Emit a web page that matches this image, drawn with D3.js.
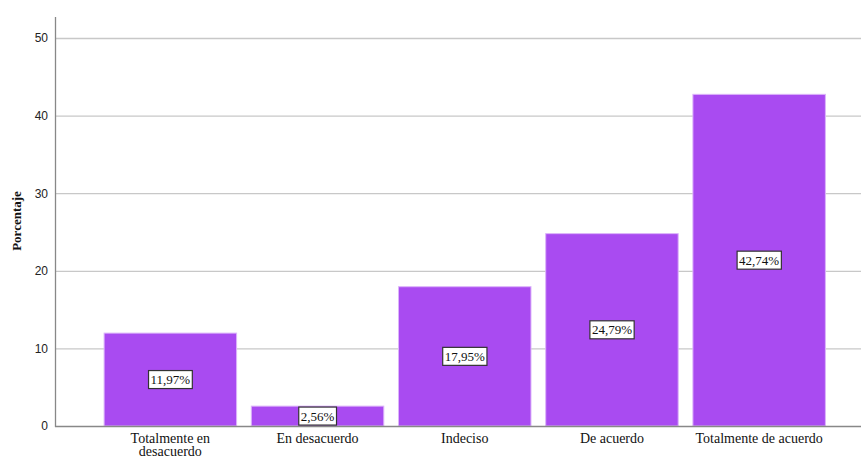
<!DOCTYPE html>
<html><head><meta charset="utf-8">
<script src="https://cdn.jsdelivr.net/npm/d3@7"></script>
<style>body{margin:0;background:#fff}</style>
</head><body>
<svg id="c" width="861" height="458"></svg>
<script>
const categories = ["Totalmente en desacuerdo","En desacuerdo","Indeciso","De acuerdo","Totalmente de acuerdo"];
const values = [11.97, 2.56, 17.95, 24.79, 42.74];
const valueLabels = ["11,97%","2,56%","17,95%","24,79%","42,74%"];
const yTicks = [0,10,20,30,40,50];
const yTitle = "Porcentaje";

const svg = d3.select("#c");
const x0 = 55, x1 = 861, yTop = 17, yBase = 426;
const y = d3.scaleLinear().domain([0,50]).range([yBase, 38]);
const x = d3.scaleBand().domain(categories).range([96.75, 832.75]).paddingInner(0.1).paddingOuter(0.05);

// gridlines
svg.append("g").selectAll("line").data(yTicks.filter(d=>d>0)).join("line")
  .attr("x1", x0).attr("x2", x1).attr("y1", d=>y(d)+0.5).attr("y2", d=>y(d)+0.5)
  .attr("stroke", "#c8c8c8").attr("stroke-width", 1.3);

// bars
svg.append("g").selectAll("rect").data(values).join("rect")
  .attr("x", (d,i)=>x(categories[i])).attr("width", x.bandwidth())
  .attr("y", d=>y(d)).attr("height", d=>yBase - y(d))
  .attr("fill", "#a94bf1").attr("stroke", "#dcb4fa").attr("stroke-width", 1);

// y axis
const ya = d3.axisLeft(y).tickValues(yTicks).tickSize(0).tickPadding(7);
const gy = svg.append("g").attr("transform", `translate(${x0},0)`).call(ya);
gy.select(".domain").remove();
gy.selectAll("text").attr("font-family", "Liberation Sans, Arial, sans-serif").attr("font-size", 12).attr("fill", "#222");
svg.append("line").attr("x1", x0+0.5).attr("x2", x0+0.5).attr("y1", yTop).attr("y2", yBase+1)
  .attr("stroke", "#888").attr("stroke-width", 1.3);

// x axis
svg.append("line").attr("x1", x0).attr("x2", x1).attr("y1", yBase+0.5).attr("y2", yBase+0.5)
  .attr("stroke", "#888").attr("stroke-width", 1.5);
const xa = d3.axisBottom(x).tickSize(0).tickPadding(7);
const gx = svg.append("g").attr("transform", `translate(0,${yBase})`).call(xa);
gx.select(".domain").remove();
gx.selectAll("text").attr("font-family", "Liberation Serif, Times New Roman, serif").attr("font-size", 14).attr("fill", "#111")
  .each(function(d){
    if (d === "Totalmente en desacuerdo") {
      const t = d3.select(this); t.text(null);
      t.append("tspan").attr("x", 0).attr("dy", "0.71em").text("Totalmente en");
      t.append("tspan").attr("x", 0).attr("dy", "0.95em").text("desacuerdo");
      t.attr("dy", null);
    }
  });

// y title
svg.append("text").attr("transform", "translate(21,221) rotate(-90)")
  .attr("text-anchor", "middle").attr("font-family", "Liberation Serif, Times New Roman, serif")
  .attr("font-weight", "bold").attr("font-size", 13).attr("fill", "#111").text(yTitle);

// value labels
const lg = svg.append("g").selectAll("g").data(values).join("g")
  .attr("transform", (d,i)=>`translate(${x(categories[i]) + x.bandwidth()/2},${(y(d)+yBase)/2})`);
lg.append("text").attr("text-anchor", "middle").attr("dy", "0.35em")
  .attr("font-family", "Liberation Serif, Times New Roman, serif").attr("font-size", 13).attr("fill", "#111")
  .text((d,i)=>valueLabels[i]);
lg.each(function(){
  const g = d3.select(this); const b = g.select("text").node().getBBox();
  g.insert("rect", "text").attr("x", b.x-2).attr("y", -9).attr("width", b.width+4).attr("height", 18)
    .attr("fill", "#fff").attr("stroke", "#333").attr("stroke-width", 1.2);
});
</script>
</body></html>
